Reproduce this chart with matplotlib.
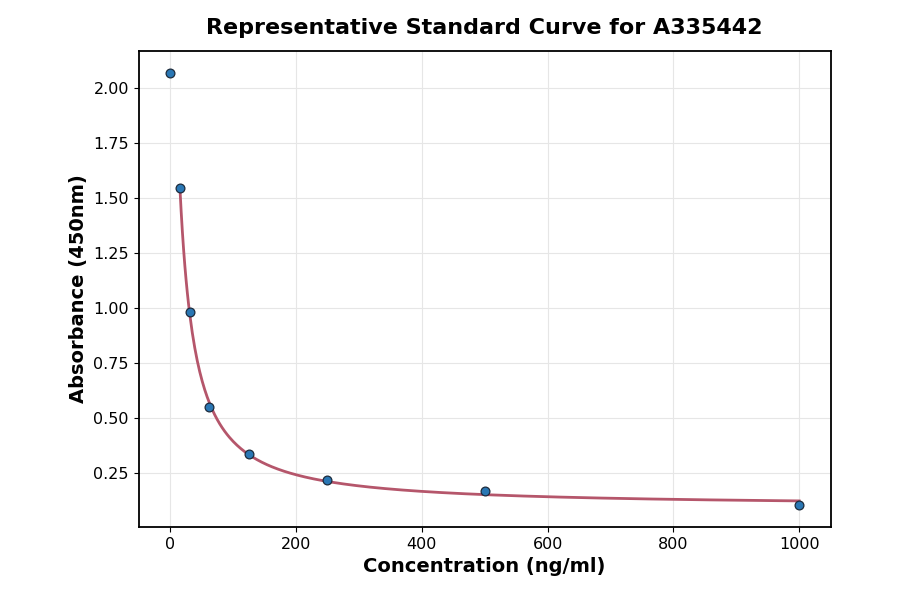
import matplotlib
matplotlib.use("Agg")
import matplotlib.pyplot as plt
import numpy as np

# standard points
concentration = [0, 15.625, 31.25, 62.5, 125, 250, 500, 1000]
absorbance = [2.068, 1.545, 0.982, 0.550, 0.336, 0.218, 0.168, 0.102]

title = 'Representative Standard Curve for A335442'
x_label = 'Concentration (ng/ml)'
y_label = 'Absorbance (450nm)'


def four_pl(x, a, b, c, d):
    return d + (a - d) / (1.0 + (x / c) ** b)


# simple Levenberg-Marquardt fit of a 4PL model (no scipy here)
def fit_4pl(x, y, p0, n_iter=2000):
    p = np.array(p0, dtype=float)
    lam = 1e-2
    def resid(p):
        return y - four_pl(x, *p)
    r = resid(p)
    cost = np.sum(r ** 2)
    for _ in range(n_iter):
        J = np.zeros((len(x), len(p)))
        for k in range(len(p)):
            dp = np.zeros_like(p)
            dp[k] = 1e-6 * max(abs(p[k]), 1e-3)
            J[:, k] = (four_pl(x, *(p + dp)) - four_pl(x, *p)) / dp[k]
        A = J.T @ J
        g = J.T @ r
        step = np.linalg.solve(A + lam * np.diag(np.diag(A)) + 1e-12 * np.eye(len(p)), g)
        p_new = p + step
        if p_new[2] <= 0:
            lam *= 10
            continue
        r_new = resid(p_new)
        cost_new = np.sum(r_new ** 2)
        if cost_new < cost:
            p, r, cost = p_new, r_new, cost_new
            lam /= 3
        else:
            lam *= 5
    return p


xs = np.array(concentration, dtype=float)
ys = np.array(absorbance, dtype=float)
# zero standard cannot sit on the log scale of the fit, so it is left out
mask = xs > 0
params = fit_4pl(xs[mask], ys[mask], [3.0, 1.0, 20.0, 0.08])

x_fit = np.linspace(xs[mask].min(), xs.max(), 500)
y_fit = four_pl(x_fit, *params)

fig = plt.figure(figsize=(9, 5.94), dpi=100)
ax = fig.add_axes([0.154, 0.113, 0.769, 0.801])

ax.plot(x_fit, y_fit, color='#b5566b', linewidth=2, zorder=2)
ax.scatter(xs, ys, s=40, color='#2a77b4', edgecolors='#1c2b3c', linewidths=0.9, zorder=3)

ax.grid(True, color='#e6e6e6', linewidth=0.8)
ax.set_axisbelow(True)
for sp in ax.spines.values():
    sp.set_linewidth(1.3)

ax.set_xticks([0, 200, 400, 600, 800, 1000])
ax.set_yticks([0.25, 0.50, 0.75, 1.00, 1.25, 1.50, 1.75, 2.00])
ax.tick_params(labelsize=11.5)

ax.set_title(title, fontsize=16, fontweight='bold', pad=12)
ax.set_xlabel(x_label, fontsize=14, fontweight='bold')
ax.set_ylabel(y_label, fontsize=14, fontweight='bold')

plt.savefig('out.png', dpi=100)
